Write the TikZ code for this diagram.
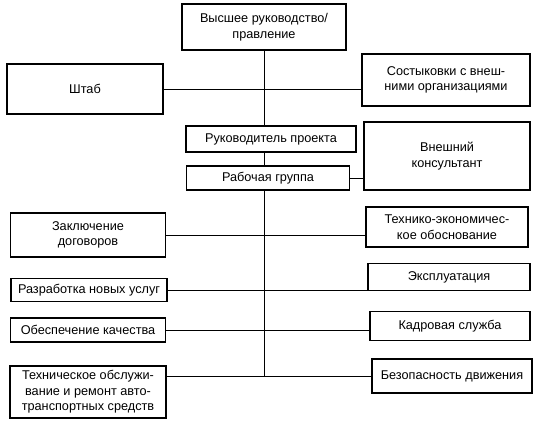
\documentclass[tikz,border=0pt]{standalone}
\usepackage{fontspec}
\setmainfont{Liberation Sans}
\begin{document}
\begin{tikzpicture}[x=1pt,y=-1pt,
  box/.style={draw, line width=1.4pt, inner sep=1pt, align=center, font=\fontsize{12.7}{15.5}\selectfont},
  conn/.style={line width=0.9pt}]
\useasboundingbox (0,0) rectangle (534,420);
\node[box, minimum width=164pt, minimum height=46pt] (top) at (264,27) {Высшее руководство/\\правление};
\node[box, minimum width=156pt, minimum height=50pt] (shtab) at (85,89) {Штаб};
\node[box, minimum width=168pt, minimum height=52pt] (sost) at (446,80) {Состыковки с внеш-\\ними организациями};
\node[box, minimum width=170pt, minimum height=26pt] (ruk) at (271,139) {Руководитель проекта};
\node[box, minimum width=163pt, minimum height=24pt] (rab) at (268,178) {Рабочая группа};
\node[box, minimum width=166pt, minimum height=68pt] (kons) at (447,156) {Внешний\\консультант};
\node[box, minimum width=155pt, minimum height=44pt] (zakl) at (88,235) {Заключение\\договоров};
\node[box, minimum width=162pt, minimum height=40pt] (tekh) at (447,227) {Технико-экономичес-\\кое обоснование};
\node[box, minimum width=156pt, minimum height=23pt] (razr) at (89,290) {Разработка новых услуг};
\node[box, minimum width=162pt, minimum height=27pt] (expl) at (449,277) {Эксплуатация};
\node[box, minimum width=155pt, minimum height=24pt] (kach) at (88,330) {Обеспечение качества};
\node[box, minimum width=160pt, minimum height=29pt] (kadr) at (450,326) {Кадровая служба};
\node[box, minimum width=156pt, minimum height=52pt] (tech) at (88,392) {Техническое обслужи-\\вание и ремонт авто-\\транспортных средств};
\node[box, minimum width=160pt, minimum height=34pt] (bez) at (452,376) {Безопасность движения};
\coordinate (vend) at (top.south |- bez.west);
\draw[conn] (top.south) -- (top.south |- ruk.north);
\draw[conn] (top.south |- ruk.south) -- (top.south |- rab.north);
\draw[conn] (top.south |- rab.south) -- (vend);
\draw[conn] (shtab.east) -- (sost.west |- shtab.east);
\draw[conn] (rab.east) -- (kons.west |- rab.east);
\draw[conn] (zakl.east) -- (tekh.west |- zakl.east);
\draw[conn] (razr.east) -- (expl.west |- razr.east);
\draw[conn] (kach.east) -- (kadr.west |- kach.east);
\draw[conn] (tech.east |- bez.west) -- (bez.west);
\end{tikzpicture}
\end{document}
